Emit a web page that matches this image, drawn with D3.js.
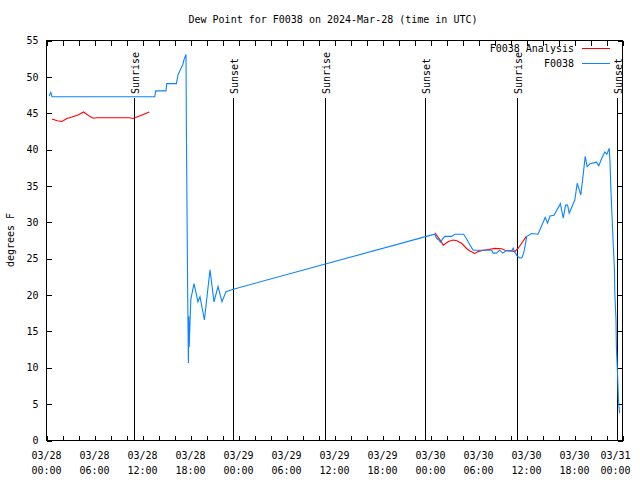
<!DOCTYPE html>
<html>
<head>
<meta charset="utf-8">
<script src="https://cdn.jsdelivr.net/npm/d3@7"></script>
<style>
  html, body { margin: 0; padding: 0; background: #fff; }
  svg { display: block; }
  text { font-family: "DejaVu Sans Mono", "Liberation Mono", monospace; font-size: 10px; fill: #000; }
</style>
</head>
<body>
<svg id="chart" width="640" height="480"></svg>
<script>
// ---- data (hours after 2024-03-28 00:00 UTC) ----
const titleText = "Dew Point for F0038 on 2024-Mar-28 (time in UTC)";
const yLabel = "degrees F";
const seriesNames = ["F0038 Analysis", "F0038"];

const obsHours = [0.4, 0.6, 0.75, 13.6, 13.7, 15.0, 15.1, 16.3, 16.5, 16.8, 17.1, 17.25, 17.5,
  17.55, 17.7, 17.8, 17.85, 17.9, 18.1, 18.5, 19.0, 19.25, 19.8, 20.5, 21.0, 21.5, 22.0, 22.5, 23.3,
  47.9, 48.6, 48.85, 49.1, 49.3, 49.6, 49.85, 50.7, 51.1, 52.2, 52.6, 53.0, 53.4, 55.7, 55.9, 56.3,
  56.7, 57.1, 57.5, 58.2, 58.4, 58.6, 58.9, 59.25, 59.5, 59.75, 60.1, 60.7, 61.5, 62.4, 62.7, 63.0,
  63.5, 64.3, 64.65, 64.95, 65.2, 65.4, 66.1, 66.4, 66.85, 67.1, 67.4, 67.65, 68.0, 68.8, 69.1,
  69.45, 69.85, 70.1, 70.4, 70.5, 70.6, 70.75, 70.9, 71.05, 71.1, 71.25, 71.3, 71.45, 71.55, 71.7];
const obsValues = [47.3, 47.8, 47.2, 47.2, 48.0, 48.0, 49.0, 49.0, 50.2, 50.9, 51.6, 52.3, 53.0,
  42.6, 21.3, 10.6, 17.0, 12.8, 19.3, 21.5, 19.0, 19.7, 16.5, 23.4, 19.0, 21.1, 19.0, 20.4, 20.7,
  28.1, 28.3, 27.7, 27.5, 27.2, 27.7, 28.0, 28.0, 28.3, 28.3, 27.6, 26.8, 26.1, 26.1, 25.7, 25.7,
  26.1, 25.7, 26.0, 26.0, 26.4, 25.8, 25.3, 25.0, 25.1, 25.9, 28.0, 28.4, 28.3, 30.6, 29.8, 30.8,
  30.9, 32.5, 30.5, 32.3, 32.3, 31.2, 33.0, 35.3, 33.7, 36.0, 39.0, 37.6, 38.0, 38.2, 37.7,
  38.7, 39.6, 39.3, 40.1, 38.3, 34.8, 30.9, 27.0, 23.6, 20.2, 16.5, 12.8, 8.9, 5.5, 3.7];

// analysis series comes in two pieces (gap between them)
const anaHours1 = [0.75, 1.4, 2.0, 2.6, 3.25, 4.0, 4.7, 5.45, 5.9, 6.4, 10.4, 10.9, 11.6, 12.25, 12.9];
const anaValues1 = [44.15, 43.9, 43.8, 44.2, 44.4, 44.7, 45.1, 44.5, 44.25, 44.3, 44.3, 44.2, 44.5, 44.8, 45.1];
const anaHours2 = [48.6, 49.0, 49.4, 49.65, 50.3, 50.9, 51.35, 51.95, 52.6, 53.0, 53.6, 54.0, 54.65,
  55.3, 56.1, 56.95, 57.4, 58.2, 58.6, 59.05, 59.45, 60.05];
const anaValues2 = [28.5, 27.9, 27.3, 26.8, 27.3, 27.5, 27.4, 27.05, 26.3, 26.0, 25.65, 25.9, 26.1,
  26.2, 26.35, 26.3, 26.1, 26.0, 25.9, 26.4, 27.05, 28.0];

const sunHours = [11.0, 23.375, 34.875, 47.375, 58.875, 71.375];
const sunLabels = ["Sunrise", "Sunset", "Sunrise", "Sunset", "Sunrise", "Sunset"];

const yTicks = [0, 5, 10, 15, 20, 25, 30, 35, 40, 45, 50, 55];
const xLabelHours = [0, 6, 12, 18, 24, 30, 36, 42, 48, 54, 60, 66, 72];

const colors = { analysis: "#ff0000", obs: "#0a84ff" };

// ---- helpers ----
const t0 = Date.UTC(2024, 2, 28);
const toDate = h => new Date(t0 + h * 3600000);

const svg = d3.select("#chart");
const L = 46, R = 622, T = 40, B = 440;

const x = d3.scaleUtc().domain([toDate(0), toDate(72)]).range([L, R]);
const y = d3.scaleLinear().domain([0, 55]).range([B, T]);

// title
svg.append("text").attr("x", 333).attr("y", 23).attr("text-anchor", "middle").text(titleText);
// y label
svg.append("text").attr("transform", "translate(14,240) rotate(-90)").attr("text-anchor", "middle").text(yLabel);

// ticks every 2 hours (bottom/top)
const minorTicks = d3.range(0, 73, 2).map(toDate);
svg.append("g").attr("transform", `translate(0.5,${B + 0.5})`)
  .call(d3.axisBottom(x).tickValues(minorTicks).tickSize(-5).tickSizeOuter(0).tickFormat(""))
  .call(g => g.select(".domain").remove());
svg.append("g").attr("transform", `translate(0.5,${T + 0.5})`)
  .call(d3.axisTop(x).tickValues(minorTicks).tickSize(-5).tickSizeOuter(0).tickFormat(""))
  .call(g => g.select(".domain").remove());

// x labels (two lines)
const fmtDate = d3.utcFormat("%m/%d");
const fmtTime = d3.utcFormat("%H:%M");
const xl = svg.append("g").attr("transform", `translate(0,${B})`)
  .call(d3.axisBottom(x).tickValues(xLabelHours.map(toDate)).tickSize(0).tickFormat(""))
  .call(g => g.select(".domain").remove());
const lastLabel = toDate(xLabelHours[xLabelHours.length - 1]).getTime();
xl.selectAll(".tick").each(function(d) {
  const t = d3.select(this).select("text");
  const shift = d.getTime() === lastLabel ? -7 : 0;   // keep last label inside the canvas
  t.attr("y", 0).attr("dy", null);
  t.append("tspan").attr("x", shift).attr("y", 19).text(fmtDate(d));
  t.append("tspan").attr("x", shift).attr("y", 34).text(fmtTime(d));
});

// y axis
svg.append("g").attr("transform", `translate(${L + 0.5},0.5)`)
  .call(d3.axisLeft(y).tickValues(yTicks).tickSize(-5).tickSizeOuter(0).tickPadding(8))
  .call(g => g.select(".domain").remove());
svg.append("g").attr("transform", `translate(${R + 0.5},0.5)`)
  .call(d3.axisRight(y).tickValues(yTicks).tickSize(-5).tickSizeOuter(0).tickFormat(""))
  .call(g => g.select(".domain").remove());

svg.selectAll(".tick line").attr("stroke", "#000").attr("shape-rendering", "crispEdges");
svg.selectAll("g .tick text").style("font-family", "'DejaVu Sans Mono', monospace").style("font-size", "10px").attr("fill", "#000");

// frame
svg.append("rect").attr("x", L + 0.5).attr("y", T + 0.5).attr("width", R - L).attr("height", B - T)
  .attr("fill", "none").attr("stroke", "#000").attr("shape-rendering", "crispEdges");

// sunrise / sunset lines
const sun = svg.append("g");
sunHours.forEach((h, i) => {
  const sx = Math.round(x(toDate(h))) + 0.5;
  sun.append("line").attr("x1", sx).attr("x2", sx).attr("y1", 98).attr("y2", B)
    .attr("stroke", "#000").attr("shape-rendering", "crispEdges");
  sun.append("text").attr("transform", `translate(${sx + 4},94) rotate(-90)`)
    .attr("text-anchor", "start").text(sunLabels[i]);
});

// data lines
const line = d3.line().x(d => x(toDate(d[0]))).y(d => y(d[1]));
const zip = (a, b) => a.map((h, i) => [h, b[i]]);
[[anaHours1, anaValues1], [anaHours2, anaValues2]].forEach(([hh, vv]) => {
  svg.append("path").datum(zip(hh, vv)).attr("d", line).attr("fill", "none")
    .attr("stroke", colors.analysis).attr("stroke-width", 1.1);
});
svg.append("path").datum(zip(obsHours, obsValues)).attr("d", line).attr("fill", "none")
  .attr("stroke", colors.obs).attr("stroke-width", 1.1);

// legend
const lg = svg.append("g");
[[seriesNames[0], colors.analysis, 48.5], [seriesNames[1], colors.obs, 63.5]].forEach(([name, c, ly]) => {
  lg.append("text").attr("x", 574).attr("y", ly + 3.5).attr("text-anchor", "end").text(name);
  lg.append("line").attr("x1", 582).attr("x2", 610).attr("y1", ly).attr("y2", ly)
    .attr("stroke", c).attr("shape-rendering", "crispEdges");
});
</script>
</body>
</html>
